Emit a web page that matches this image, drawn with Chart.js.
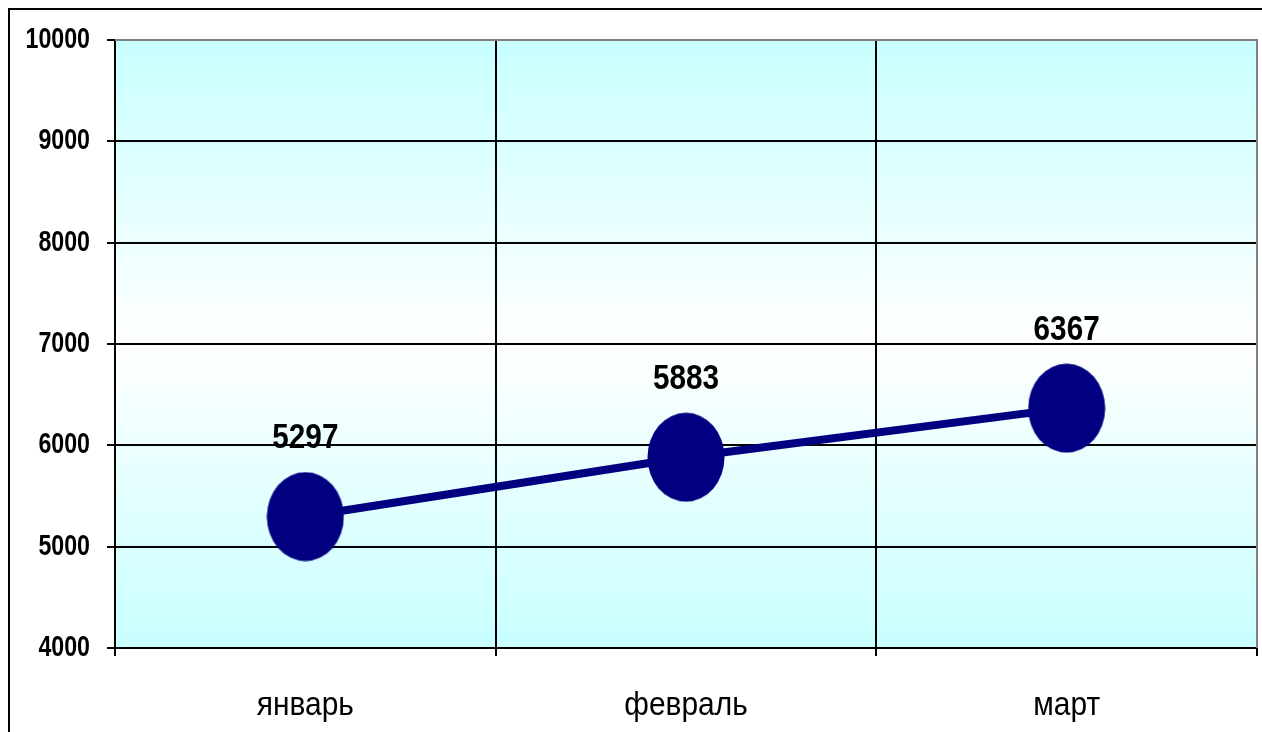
<!DOCTYPE html>
<html>
<head>
<meta charset="utf-8">
<script src="https://cdn.jsdelivr.net/npm/chart.js@4/dist/chart.umd.min.js"></script>
<style>
  html, body { margin: 0; padding: 0; background: #fff; }
  canvas { display: block; }
</style>
</head>
<body>
<canvas id="chart" width="1262" height="732"></canvas>
<script>
const months = ['январь', 'февраль', 'март'];
const totals = [5297, 5883, 6367];
const yTicks = [4000, 5000, 6000, 7000, 8000, 9000, 10000];

const navy = '#000080';
const sans = '"Liberation Sans", Arial, sans-serif';

// ellipse marker
function makeMarker() {
    const c = document.createElement('canvas');
    c.width = 78;
    c.height = 90;
    const g = c.getContext('2d');
    g.fillStyle = navy;
    g.beginPath();
    g.ellipse(39, 45, 38.5, 44.5, 0, 0, Math.PI * 2);
    g.fill();
    return c;
}

// text squeezed sideways, like Arial Narrow
function narrowText(ctx, text, x, y, font, sx, align) {
    ctx.save();
    ctx.translate(x, y);
    ctx.scale(sx, 1);
    ctx.font = font;
    ctx.fillStyle = '#000';
    ctx.textAlign = align;
    ctx.textBaseline = 'middle';
    ctx.fillText(text, 0, 0);
    ctx.restore();
}

const framePlugin = {
    id: 'frame',
    beforeDraw(chart) {
        const { ctx, chartArea: a } = chart;
        const grad = ctx.createLinearGradient(0, a.top, 0, a.bottom);
        grad.addColorStop(0, '#c8ffff');
        grad.addColorStop(0.5, '#ffffff');
        grad.addColorStop(1, '#c8ffff');
        ctx.save();
        ctx.fillStyle = grad;
        ctx.fillRect(a.left, a.top, a.right - a.left, a.bottom - a.top);
        ctx.restore();
    },
    afterDatasetsDraw(chart) {
        const meta = chart.getDatasetMeta(0);
        meta.data.forEach((pt, i) => {
            narrowText(chart.ctx, String(totals[i]), pt.x, pt.y - 78, 'bold 35px ' + sans, 0.85, 'center');
        });
    },
    afterDraw(chart) {
        const { ctx, chartArea: a } = chart;
        const xs = chart.scales.x, ys = chart.scales.y;
        yTicks.forEach(v => {
            narrowText(ctx, String(v), 90, ys.getPixelForValue(v), 'bold 29px ' + sans, 0.8, 'right');
        });
        months.forEach((m, i) => {
            narrowText(ctx, m, xs.getPixelForValue(i), 706, '34px ' + sans, 0.88, 'center');
        });
        ctx.save();
        ctx.strokeStyle = '#808080';
        ctx.lineWidth = 2;
        ctx.beginPath();
        ctx.moveTo(a.left, a.top);
        ctx.lineTo(a.right, a.top);
        ctx.lineTo(a.right, a.bottom);
        ctx.stroke();
        ctx.strokeStyle = '#000';
        ctx.beginPath();
        ctx.moveTo(9, 732);
        ctx.lineTo(9, 9);
        ctx.lineTo(1262, 9);
        ctx.stroke();
        ctx.restore();
    }
};

new Chart(document.getElementById('chart'), {
    type: 'line',
    data: {
        labels: months,
        datasets: [{
            data: totals,
            borderColor: navy,
            borderWidth: 8,
            pointStyle: makeMarker(),
            pointRadius: 1,
            pointBorderWidth: 0,
            tension: 0,
            clip: false
        }]
    },
    options: {
        responsive: false,
        devicePixelRatio: 1,
        animation: false,
        layout: { padding: { left: 0, top: 40, right: 5, bottom: 0 } },
        plugins: {
            legend: { display: false },
            tooltip: { enabled: false }
        },
        scales: {
            x: {
                offset: true,
                grid: {
                    offset: true,
                    color: '#000',
                    lineWidth: 2,
                    tickLength: 8
                },
                border: { color: '#000', width: 2 },
                ticks: { display: false },
                afterFit(scale) { scale.height = 84; }
            },
            y: {
                min: 4000,
                max: 10000,
                afterBuildTicks(scale) {
                    scale.ticks = yTicks.map(v => ({ value: v }));
                },
                grid: {
                    color: '#000',
                    lineWidth: 2,
                    tickLength: 8
                },
                border: { color: '#000', width: 2 },
                ticks: { display: false },
                afterFit(scale) { scale.width = 115; }
            }
        }
    },
    plugins: [framePlugin]
});
</script>
</body>
</html>
